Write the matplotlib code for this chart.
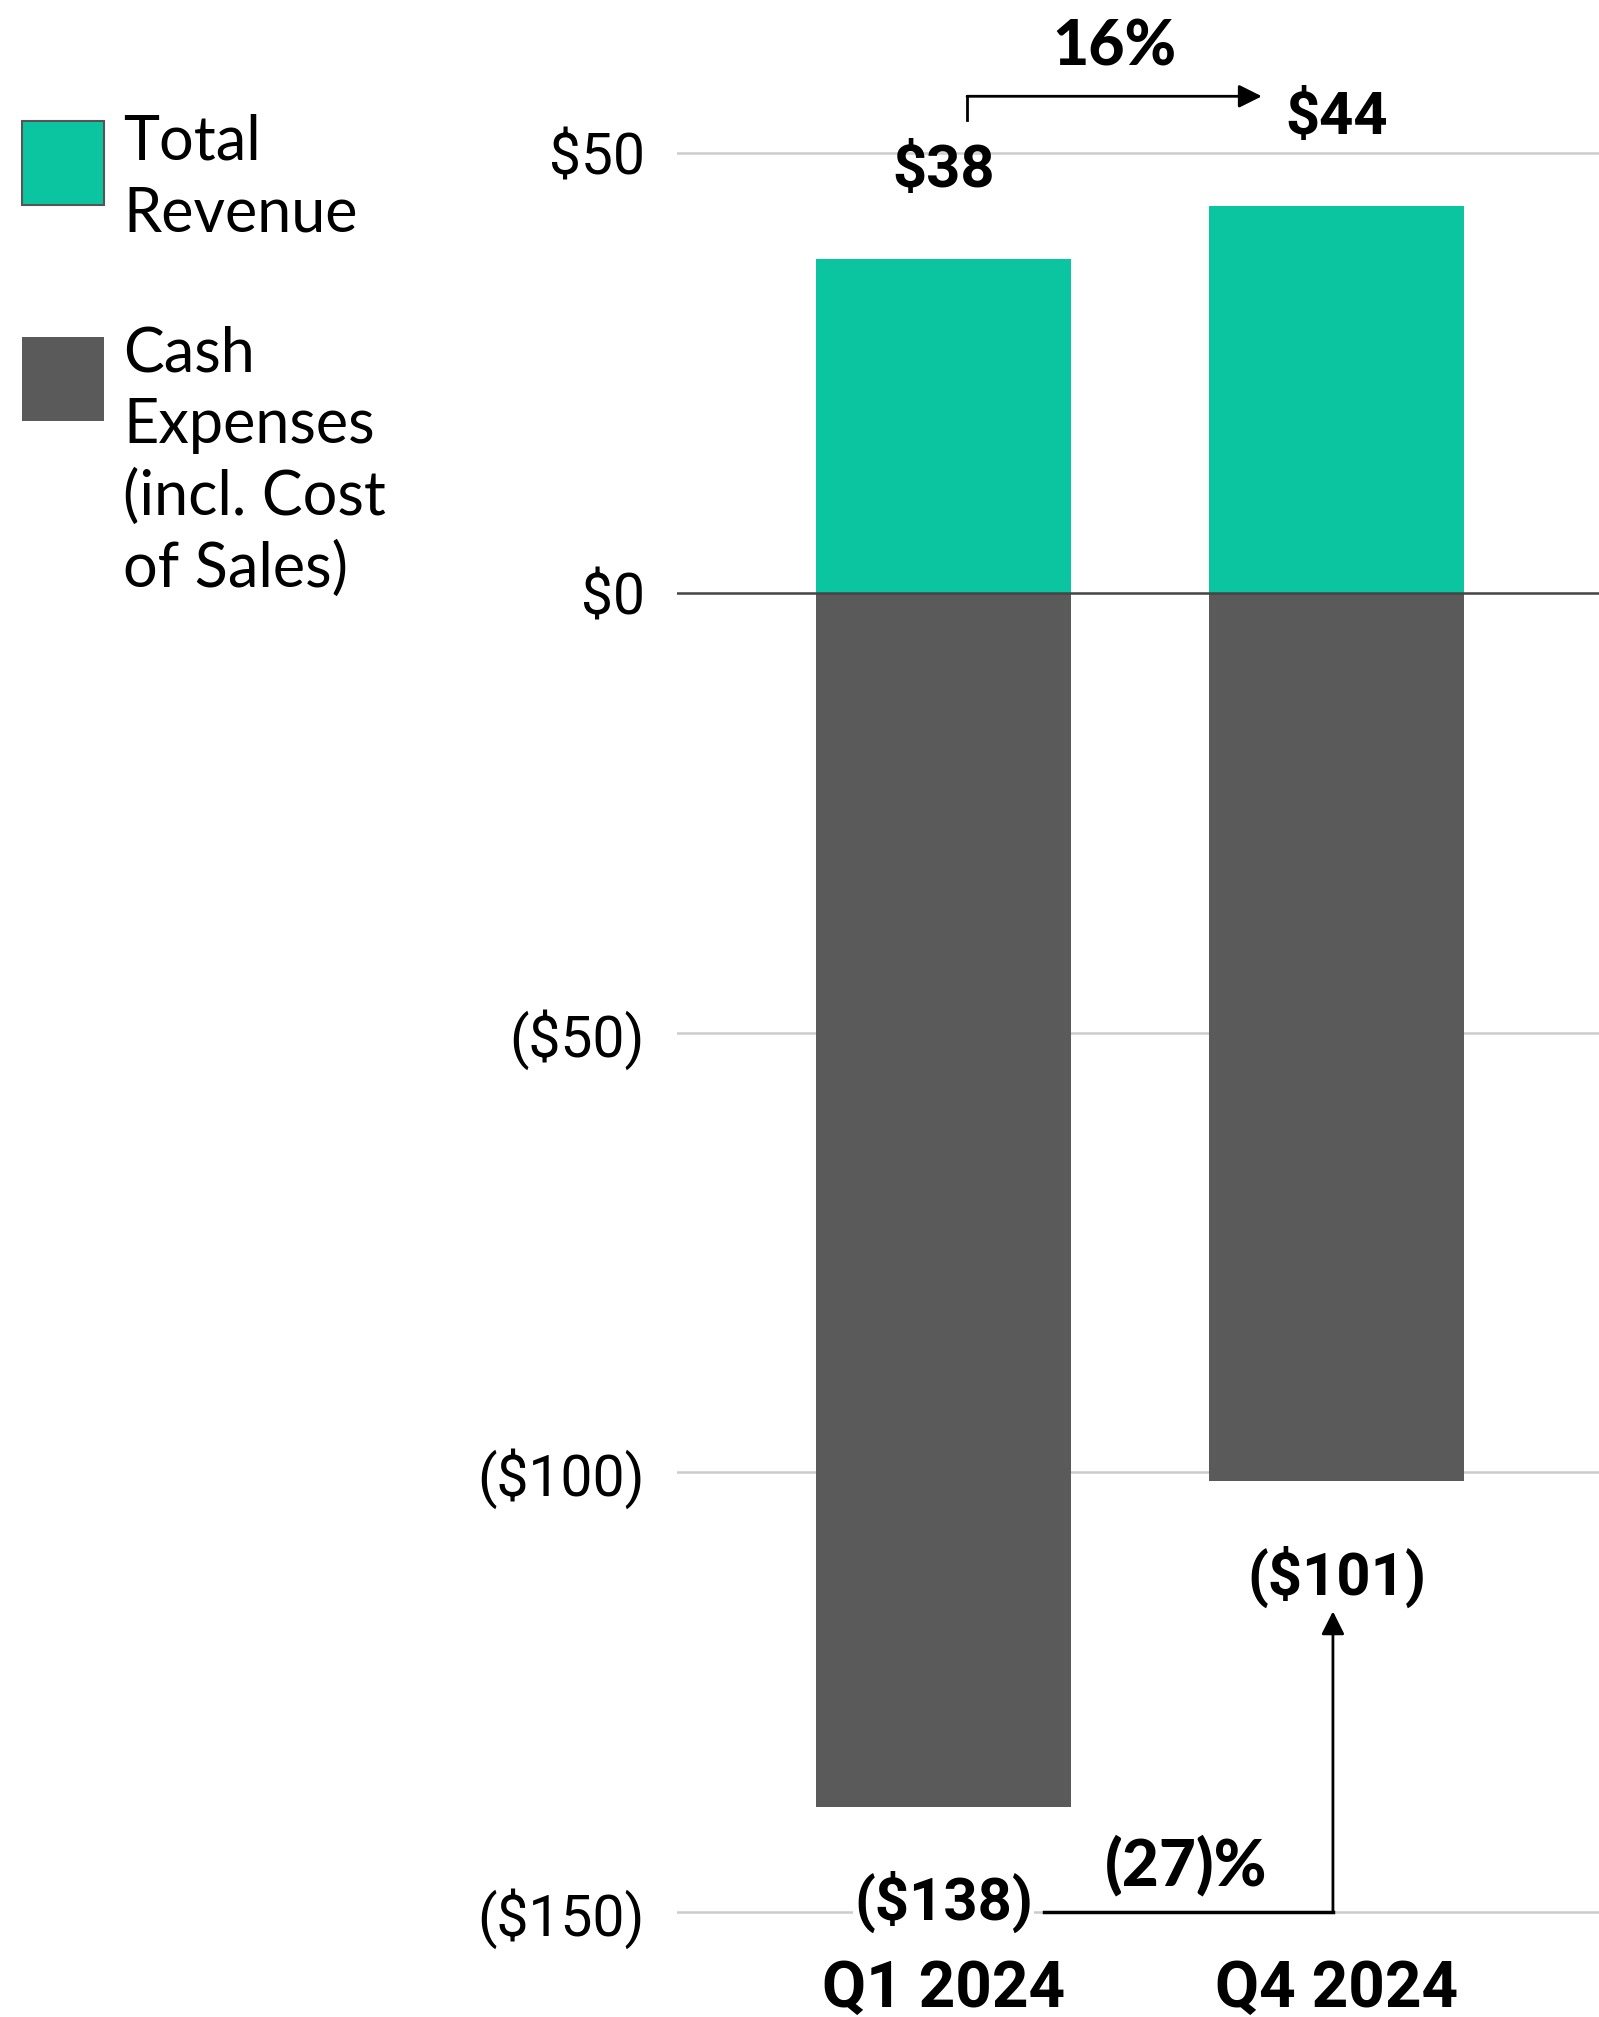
import numpy as np
import matplotlib.pyplot as plt

quarters = ['Q1 2024', 'Q4 2024']
revenue = [38, 44]
expenses = [-138, -101]
rev_labels = ['$38', '$44']
exp_labels = ['($138)', '($101)']
rev_change = '16%'
exp_change = '(27)%'
yticks = [50, 0, -50, -100, -150]
ytick_labels = ['$50', '$0', '($50)', '($100)', '($150)']

teal = '#0bc5a1'
grey = '#5a5a5a'

fig = plt.figure(figsize=(15.99, 20.17), dpi=100)
ax = fig.add_axes([0.4234, 0.0407, 0.5766, 0.9593])

x = np.arange(len(quarters))
ax.bar(x, revenue, width=0.651, color=teal, zorder=3)
ax.bar(x, expenses, width=0.651, color=grey, zorder=3)

ax.set_xlim(-0.678, 1.668)
ax.set_ylim(-152.6, 67.45)

ax.set_yticks(yticks, ytick_labels, fontsize=41, family='Roboto')
ax.set_xticks(x, quarters, fontsize=46, family='Roboto', fontweight='bold')
ax.tick_params(axis='y', length=0, pad=23)
ax.tick_params(axis='x', length=0, pad=17)
for s in ax.spines.values():
    s.set_visible(False)
for v in yticks:
    ax.axhline(v, color='#444444' if v == 0 else '#cccccc', lw=1.8, zorder=1 if v else 4)

for i in x:
    ax.text(i, revenue[i] + 10.0, rev_labels[i], ha='center', va='center',
            fontsize=43, fontweight='bold', family='Roboto', zorder=5)
    ax.text(i, expenses[i] - 10.9, exp_labels[i], ha='center', va='center',
            fontsize=43, fontweight='bold', family='Roboto', zorder=5,
            bbox=dict(facecolor='white', edgecolor='none', pad=1) if i == 0 else None)

# growth arrows
ax.annotate('', xy=(0.81, 56.5), xytext=(0.06, 56.5),
            arrowprops=dict(arrowstyle='-|>', color='black', lw=2, mutation_scale=35,
                            shrinkA=0, shrinkB=0))
ax.plot([0.06, 0.06], [53.8, 56.5], color='black', lw=2)
ax.text(0.434, 62, rev_change, ha='center', va='center', fontsize=45,
        fontweight='black', family='Lato')

ax.plot([0.255, 0.991], [-150, -150], color='black', lw=2.5, zorder=6)
ax.annotate('', xy=(0.991, -115.8), xytext=(0.991, -150),
            arrowprops=dict(arrowstyle='-|>', color='black', lw=2, mutation_scale=35,
                            shrinkA=0, shrinkB=0))
ax.text(0.617, -144.7, exp_change, ha='center', va='center', fontsize=46,
        fontweight='black', family='Lato')

# legend
fig.patches.append(plt.Rectangle((22 / 1599, 1 - 205 / 2017), 82 / 1599, 84 / 2017,
                                 transform=fig.transFigure, facecolor=teal,
                                 edgecolor='#555555', lw=1.5))
fig.patches.append(plt.Rectangle((22 / 1599, 1 - 421 / 2017), 82 / 1599, 84 / 2017,
                                 transform=fig.transFigure, facecolor=grey,
                                 edgecolor='none'))
fig.text(123 / 1599, 1 - 114 / 2017, 'Total\nRevenue', ha='left', va='top',
         fontsize=44, family='Lato', linespacing=1.32)
fig.text(123 / 1599, 1 - 325 / 2017, 'Cash\nExpenses\n(incl. Cost\nof Sales)', ha='left',
         va='top', fontsize=44, family='Lato', linespacing=1.32)

fig.savefig('out.png', dpi=100)
